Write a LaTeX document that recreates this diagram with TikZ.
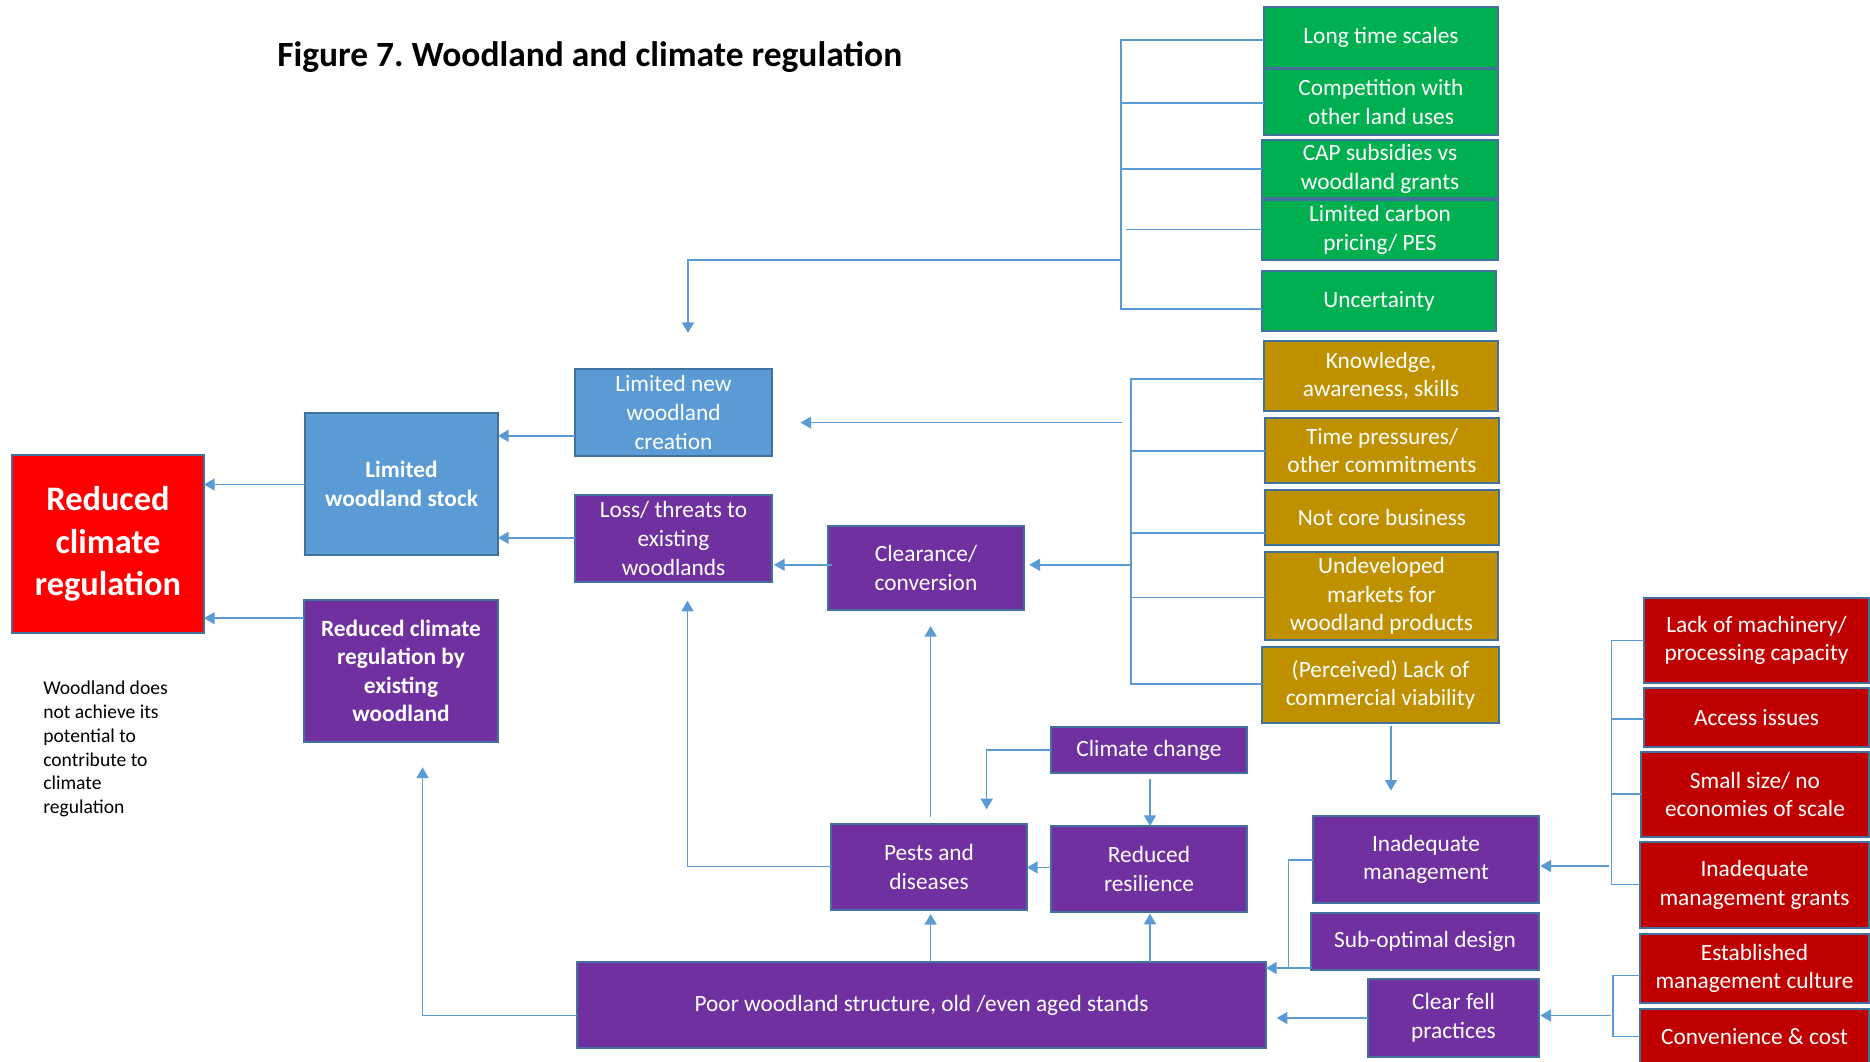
\documentclass[tikz,border=0pt]{standalone}
\usepackage{fontspec}
\setmainfont{Carlito}
\usetikzlibrary{arrows.meta}
\frenchspacing
\definecolor{bluebox}{HTML}{5B9BD5}
\definecolor{purp}{HTML}{7030A0}
\definecolor{grn}{HTML}{00B050}
\definecolor{gold}{HTML}{BF9000}
\definecolor{brightred}{HTML}{FF0000}
\definecolor{darkred}{HTML}{C00000}
\definecolor{edgecol}{HTML}{41719C}
\definecolor{conncol}{HTML}{5B9BD5}
\tikzset{
 box/.style={draw=edgecol, line width=1.5pt, text=white, align=center, inner sep=0pt, outer sep=0pt, anchor=north west, font=\fontsize{17.5}{21.4}\selectfont},
 boldbox/.style={box, font=\fontsize{17.5}{21.4}\selectfont\bfseries},
 wh/.style 2 args={minimum width=#1*0.75pt, minimum height=#2*0.75pt},
 conn/.style={draw=conncol, line width=1.1pt},
 arr/.style={conn, -{Triangle[length=8pt,width=9pt]}},
}
\begin{document}
\begin{tikzpicture}[x=0.75pt, y=-0.75pt]
\useasboundingbox (0,0) rectangle (1870,1061);
\clip (0,0) rectangle (1870,1061);
\fill[white] (0,0) rectangle (1870,1061);

% title and note
\node[anchor=base west, inner sep=0pt, font=\fontsize{26.6}{31}\selectfont\bfseries] (title) at (277,66) {Figure 7. Woodland and climate regulation};
\node[anchor=west, inner sep=0pt, align=left, font=\fontsize{14.7}{17.8}\selectfont] (note) at (43,749) {Woodland does\\not achieve its\\potential to\\contribute to\\climate\\regulation};

% green boxes
\node[box, fill=grn, wh={234}{61}] (long) at (1264,7) {Long time scales};
\node[box, fill=grn, wh={234}{66}] (comp) at (1264,69) {Competition with\\other land uses};
\node[box, fill=grn, wh={236}{58}] (cap) at (1262,140) {CAP subsidies vs\\woodland grants};
\node[box, fill=grn, wh={236}{60}] (carbon) at (1262,200) {Limited carbon\\pricing/ PES};
\node[box, fill=grn, wh={234}{60}] (uncert) at (1262,271) {Uncertainty};
% gold boxes
\node[box, fill=gold, wh={234}{70}] (know) at (1264,341) {Knowledge,\\awareness, skills};
\node[box, fill=gold, wh={234}{65}] (time) at (1265,418) {Time pressures/\\other commitments};
\node[box, fill=gold, wh={234}{55}] (notcore) at (1265,490) {Not core business};
\node[box, fill=gold, wh={233}{88}] (undev) at (1265,552) {Undeveloped\\markets for\\woodland products};
\node[box, fill=gold, wh={237}{76}] (perc) at (1262,647) {(Perceived) Lack of\\commercial viability};
% main chain
\node[box, fill=brightred, wh={192}{178}, font=\fontsize{25.8}{31.8}\selectfont\bfseries] (red) at (12,455) {Reduced\\climate\\regulation};
\node[boldbox, fill=bluebox, wh={193}{142}] (stock) at (305,413) {Limited\\woodland stock};
\node[box, fill=bluebox, wh={197}{87}] (lnew) at (575,369) {Limited new\\woodland\\creation};
\node[box, fill=purp, wh={197}{87}] (loss) at (575,495) {Loss/ threats to\\existing\\woodlands};
\node[box, fill=purp, wh={196}{84}] (clear) at (828,526) {Clearance/\\conversion};
\node[boldbox, fill=purp, wh={194}{142}] (redby) at (304,600) {Reduced climate\\regulation by\\existing\\woodland};
\node[box, fill=purp, wh={196}{86}] (pests) at (831,824) {Pests and\\diseases};
\node[box, fill=purp, wh={196}{46}] (cchange) at (1051,727) {Climate change};
\node[box, fill=purp, wh={196}{86}] (resil) at (1051,826) {Reduced\\resilience};
\node[box, fill=purp, wh={689}{86}] (poor) at (577,962) {Poor woodland structure, old /even aged stands};
\node[box, fill=purp, wh={226}{87}] (inadm) at (1313,816) {Inadequate\\management};
\node[box, fill=purp, wh={228}{57}] (subopt) at (1311,913) {Sub-optimal design};
\node[box, fill=purp, wh={171}{78}] (clearfell) at (1368,979) {Clear fell\\practices};
% red boxes
\node[box, fill=darkred, wh={225}{85}] (lackm) at (1644,598) {Lack of machinery/\\processing capacity};
\node[box, fill=darkred, wh={225}{59}] (access) at (1644,688) {Access issues};
\node[box, fill=darkred, wh={228}{85}] (small) at (1641,752) {Small size/ no\\economies of scale};
\node[box, fill=darkred, wh={229}{86}] (grants) at (1640,842) {Inadequate\\management grants};
\node[box, fill=darkred, wh={229}{69}] (estab) at (1640,934) {Established\\management culture};
\node[box, fill=darkred, wh={229}{56}] (conv) at (1640,1009) {Convenience \& cost};

% green bracket
\coordinate (gT) at (1121,40);
\coordinate (gB) at (1121,309);
\coordinate (g2) at (1121,103);
\coordinate (g3) at (1121,169);
\coordinate (g4) at (1126,229.5);
\coordinate (g0) at (1121,260);
\draw[conn] (long.west |- gT) -- (gT) -- (gB) -- (uncert.west |- gB);
\draw[conn] (g2) -- (comp.west |- g2);
\draw[conn] (g3) -- (cap.west |- g3);
\draw[conn] (g4) -- (carbon.west |- g4);
\draw[arr, shorten >=27pt] (g0) -| (lnew.north -| 688,0);

% gold bracket
\coordinate (oT) at (1131,379);
\coordinate (oB) at (1131,684);
\coordinate (o2) at (1131,451);
\coordinate (o3) at (1131,533);
\coordinate (o4) at (1131,597.6);
\coordinate (oA) at (1122,422.6);
\coordinate (oC) at (1131,564.8);
\draw[conn] (know.west |- oT) -- (oT) -- (oB) -- (perc.west |- oB);
\draw[conn] (o2) -- (time.west |- o2);
\draw[conn] (o3) -- (notcore.west |- o3);
\draw[conn] (o4) -- (undev.west |- o4);
\draw[arr, shorten >=21.4pt] (oA) -- (lnew.east |- oA);
\draw[arr, shorten >=4pt] (oC) -- (clear.east |- oC);

% red bracket 1
\coordinate (rT) at (1611.5,640.5);
\coordinate (rB) at (1611.5,884.3);
\coordinate (r2) at (1611.5,719);
\coordinate (r3) at (1611.5,794);
\coordinate (rA) at (1609,866);
\draw[conn] (lackm.west |- rT) -- (rT) -- (rB) -- (grants.west |- rB);
\draw[conn] (r2) -- (access.west |- r2);
\draw[conn] (r3) -- (small.west |- r3);
\draw[arr, shorten >=1pt] (rA) -- (inadm.east |- rA);

% red bracket 2
\coordinate (sT) at (1613,975.6);
\coordinate (sB) at (1613,1036.4);
\coordinate (sA) at (1610.5,1015.5);
\draw[conn] (estab.west |- sT) -- (sT) -- (sB) -- (conv.west |- sB);
\draw[arr, shorten >=1pt] (sA) -- (clearfell.east |- sA);

% main flows
\draw[arr] (stock.west |- 0,484.5) -- (red.east |- 0,484.5);
\draw[arr] (lnew.west |- 0,435.8) -- (stock.east |- 0,435.8);
\draw[arr] (loss.west |- 0,537.8) -- (stock.east |- 0,537.8);
\draw[arr] (redby.west |- 0,618.2) -- (red.east |- 0,618.2);
\draw[arr, shorten <=-3pt, shorten >=1.5pt] (clear.west |- 0,564.8) -- (loss.east |- 0,564.8);
\draw[arr, shorten >=14pt] (pests.west |- 0,866.7) -| (loss.south -| 687.5,0);
\draw[arr, shorten <=5pt, shorten >=12pt] (pests.north -| 930.6,0) -- (clear.south -| 930.6,0);
\draw[arr, shorten >=11pt] (cchange.west) -| (pests.north -| 986.7,0);
\draw[arr, shorten <=4.5pt] (cchange.south -| 1150,0) -- (resil.north -| 1150,0);
\draw[arr] (resil.west |- 0,867.4) -- (pests.east |- 0,867.4);
\draw[arr, shorten >=3pt] (poor.north -| 930.6,0) -- (pests.south -| 930.6,0);
\draw[arr, shorten >=1.2pt] (poor.north -| 1150,0) -- (resil.south -| 1150,0);
\draw[arr, shorten >=19pt] (poor.west |- 0,1015.5) -| (redby.south -| 422.6,0);
\coordinate (j1) at (1288.5,968);
\draw[conn] (inadm.west |- 0,860) -| (j1);
\draw[arr] (subopt.west |- j1) -- (poor.east |- j1);
\draw[arr, shorten >=8pt] (clearfell.west |- 0,1018) -- (poor.east |- 0,1018);
\draw[arr, shorten <=2.5pt, shorten >=19pt] (perc.south -| 1391,0) -- (inadm.north -| 1391,0);
\end{tikzpicture}
\end{document}
